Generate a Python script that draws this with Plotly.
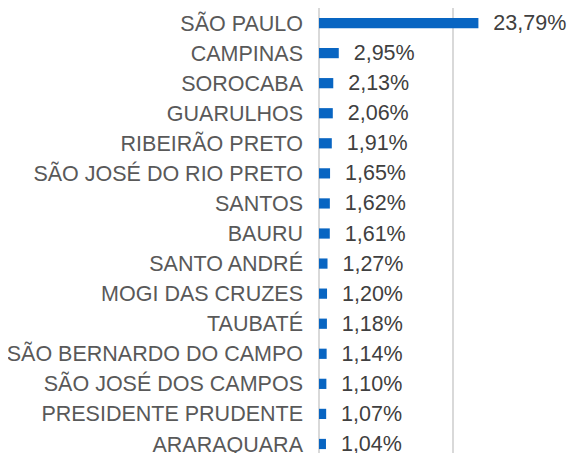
import plotly.graph_objects as go

cities = ["SÃO PAULO", "CAMPINAS", "SOROCABA", "GUARULHOS", "RIBEIRÃO PRETO",
          "SÃO JOSÉ DO RIO PRETO", "SANTOS", "BAURU", "SANTO ANDRÉ", "MOGI DAS CRUZES",
          "TAUBATÉ", "SÃO BERNARDO DO CAMPO", "SÃO JOSÉ DOS CAMPOS",
          "PRESIDENTE PRUDENTE", "ARARAQUARA"]
shares = [23.79, 2.95, 2.13, 2.06, 1.91, 1.65, 1.62, 1.61, 1.27, 1.20, 1.18, 1.14, 1.10, 1.07, 1.04]

labels = ["\u00a0\u00a0" + f"{v:.2f}".replace(".", ",") + "%" for v in shares]

fig = go.Figure(go.Bar(
    x=shares, y=cities, orientation="h",
    marker=dict(color="#0865C2", line=dict(width=0)),
    text=labels, textposition="outside", cliponaxis=False, constraintext="none",
    textfont=dict(family="Liberation Sans, Arial, sans-serif", size=21.5, color="#404040"),
))

fig.update_layout(
    width=575, height=445,
    margin=dict(l=311, r=0, t=0, b=0, pad=0, autoexpand=False),
    paper_bgcolor="white", plot_bgcolor="white",
    bargap=0.66, showlegend=False,
    font=dict(family="Liberation Sans, Arial, sans-serif", color="#595959"),
)
fig.update_xaxes(range=[0, 39.4], dtick=20, showgrid=True, gridcolor="#D9D9D9", gridwidth=2,
                 zeroline=True, zerolinecolor="#D9D9D9", zerolinewidth=2,
                 showticklabels=False, showline=False, automargin=False)
fig.update_yaxes(type="category", range=[14.3, -0.5], showgrid=False,
                 tickfont=dict(size=21.5, color="#595959"), ticklabelstandoff=15,
                 showline=False, ticks="", automargin=False)

fig.write_html("out.html")
